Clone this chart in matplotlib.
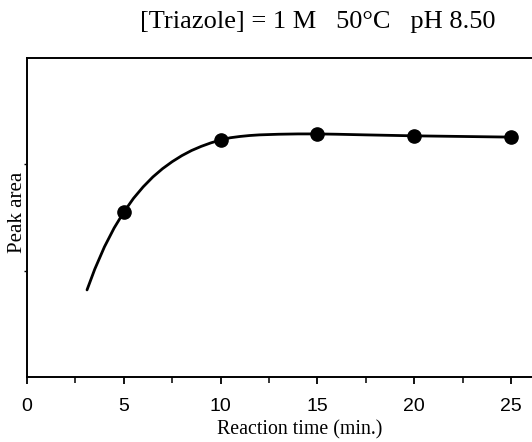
import matplotlib
matplotlib.use("Agg")
import matplotlib.pyplot as plt
from matplotlib.ticker import MultipleLocator

# Measured data points
time_pts = [5, 10, 15, 20, 25]
area_pts = [0.517, 0.743, 0.762, 0.755, 0.752]

# Fitted curve
curve_t = [3.1, 3.5, 4, 4.5, 5, 5.5, 6, 6.5, 7, 7.5, 8, 8.5, 9, 9.5, 10,
           10.5, 11, 11.5, 12, 13, 14, 15, 16, 17.5, 20, 22.5, 25]
curve_a = [0.273, 0.338, 0.408, 0.467, 0.517, 0.560, 0.596, 0.627, 0.653, 0.675,
           0.694, 0.710, 0.723, 0.734, 0.743, 0.750, 0.754, 0.757, 0.759, 0.761,
           0.762, 0.762, 0.761, 0.759, 0.756, 0.754, 0.752]

x_ticks = [0, 5, 10, 15, 20, 25]
x_tick_labels = ["0", "5", "10", "15", "20", "25"]

title = "[Triazole] = 1 M   50\u00b0C   pH 8.50"
xlabel = "Reaction time (min.)"
ylabel = "Peak area"

serif = ["Liberation Serif", "DejaVu Serif"]
sans = ["Liberation Sans", "DejaVu Sans"]

fig = plt.figure(figsize=(5.32, 4.42), dpi=100)
W, H = 532, 442
ax = fig.add_axes([27 / W, (H - 377) / H, 505 / W, 319 / H])

ax.plot(curve_t, curve_a, color="black", lw=2.0, solid_capstyle="round",
        solid_joinstyle="round", zorder=2)
ax.plot(time_pts, area_pts, "o", color="black", ms=9.5, zorder=3, clip_on=False)

ax.set_xlim(0, 505 / 19.36)
ax.set_ylim(0, 1)

ax.spines["right"].set_visible(False)
for s in ["left", "top", "bottom"]:
    ax.spines[s].set_linewidth(1.4)

ax.set_xticks(x_ticks)
ax.set_xticklabels(x_tick_labels, fontfamily=sans, fontsize=14)
ax.xaxis.set_minor_locator(MultipleLocator(2.5))
ax.tick_params(axis="x", which="major", direction="out", length=5, width=1.3, pad=10)
ax.tick_params(axis="x", which="minor", direction="out", length=4, width=1.1)

ax.set_yticks([1 / 3, 2 / 3])
ax.set_yticklabels([])
ax.tick_params(axis="y", which="major", direction="out", length=2.5, width=1.0)

fig.text(300 / W, 1 - 430 / H, xlabel, fontfamily=serif, fontsize=14.3,
         ha="center", va="center")
fig.text(18 / W, 1 - 212 / H, ylabel, fontfamily=serif, fontsize=15,
         ha="center", va="center", rotation=90)

fig.text(318 / W, 1 - 22 / H, title, fontfamily=serif, fontsize=19,
         ha="center", va="center")

fig.savefig("out.png", dpi=100)
